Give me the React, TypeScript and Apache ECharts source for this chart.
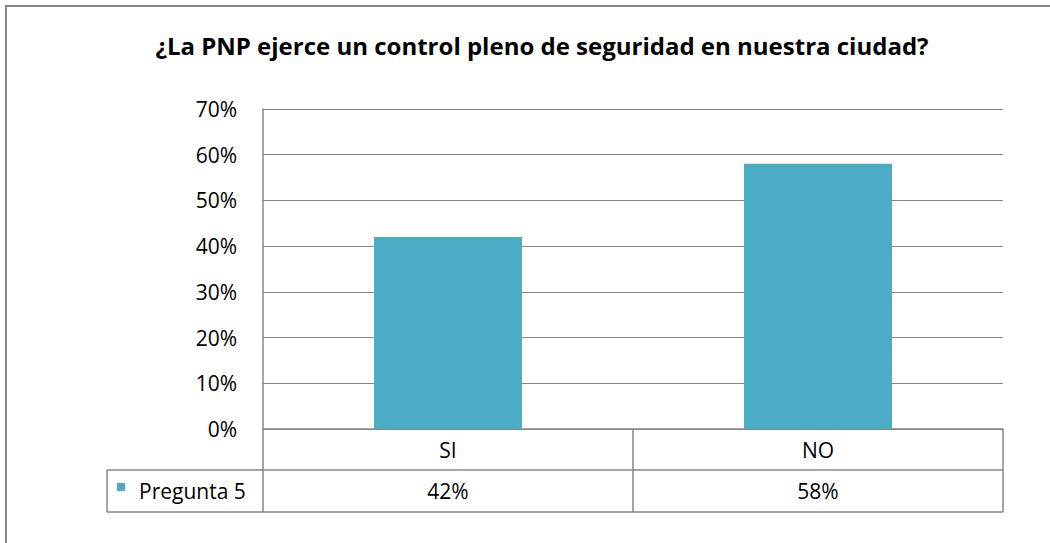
import React, { useEffect, useRef } from "react";
import * as echarts from "echarts";

const TITLE = "¿La PNP ejerce un control pleno de seguridad en nuestra ciudad?";
const CATEGORIES = ["SI", "NO"];
const SERIES_NAME = "Pregunta 5";
const VALUES = [0.42, 0.58];
const Y_MIN = 0;
const Y_MAX = 0.7;
const Y_STEP = 0.1;

const FONT = "'Open Sans', 'Liberation Sans', sans-serif";
const GRAY = "#868686";
const BAR = "#4BACC6";

const pct = (v: number) => `${Math.round(v * 100)}%`;

export default function App() {
  const ref = useRef<HTMLDivElement>(null);
  useEffect(() => {
    document.body.style.margin = "0";
    const chart = echarts.init(ref.current!, undefined, { renderer: "svg" });
    const L = 263, T = 109, R = 1003, B = 429;
    chart.setOption({
      animation: false,
      backgroundColor: "#ffffff",
      title: {
        text: TITLE,
        left: 537,
        top: 28,
        textAlign: "center",
        textStyle: { fontFamily: FONT, fontSize: 24, fontWeight: "bold", color: "#000" },
      },
      grid: { left: L, top: T, right: 1050 - R, bottom: 543 - B, containLabel: false },
      xAxis: [
        {
          type: "category",
          data: CATEGORIES,
          position: "bottom",
          axisLine: { show: true, lineStyle: { color: GRAY, width: 1.5 } },
          axisTick: { show: true, length: 83, lineStyle: { color: GRAY, width: 1.5 } },
          axisLabel: { fontFamily: FONT, fontSize: 21, color: "#000", margin: 10 },
        },
        {
          type: "category",
          data: CATEGORIES,
          position: "bottom",
          offset: 41,
          axisLine: { show: false },
          axisTick: { show: false },
          axisLabel: {
            fontFamily: FONT,
            fontSize: 21,
            color: "#000",
            margin: 10,
            formatter: (_: string, i: number) => pct(VALUES[i]),
          },
        },
      ],
      yAxis: {
        type: "value",
        min: Y_MIN,
        max: Y_MAX,
        interval: Y_STEP,
        axisLine: { show: true, lineStyle: { color: GRAY, width: 1.5 } },
        axisTick: { show: false },
        axisLabel: {
          fontFamily: FONT,
          fontSize: 21,
          color: "#000",
          margin: 26,
          formatter: (v: number) => pct(v),
        },
        splitLine: { show: true, lineStyle: { color: GRAY, width: 1 } },
      },
      series: [
        {
          name: SERIES_NAME,
          type: "bar",
          data: VALUES,
          barWidth: "40%",
          itemStyle: { color: BAR },
        },
      ],
      graphic: [
        {
          type: "rect",
          shape: { x: 6, y: 6, width: 1100, height: 600 },
          style: { fill: "none", stroke: GRAY, lineWidth: 2 },
          silent: true,
        },
        { type: "line", shape: { x1: 107, y1: 470, x2: R, y2: 470 }, style: { stroke: GRAY, lineWidth: 1.5 } },
        { type: "line", shape: { x1: 107, y1: 512, x2: R, y2: 512 }, style: { stroke: GRAY, lineWidth: 1.5 } },
        { type: "line", shape: { x1: 107, y1: 470, x2: 107, y2: 512 }, style: { stroke: GRAY, lineWidth: 1.5 } },
        { type: "rect", shape: { x: 117, y: 483, width: 8, height: 8 }, style: { fill: BAR } },
        {
          type: "text",
          x: 139,
          y: 491,
          style: {
            text: SERIES_NAME,
            fontFamily: FONT,
            fontSize: 21,
            fill: "#000",
            verticalAlign: "middle",
            align: "left",
          },
        },
      ],
    });
    return () => chart.dispose();
  }, []);
  return <div ref={ref} style={{ width: 1050, height: 543 }} />;
}
